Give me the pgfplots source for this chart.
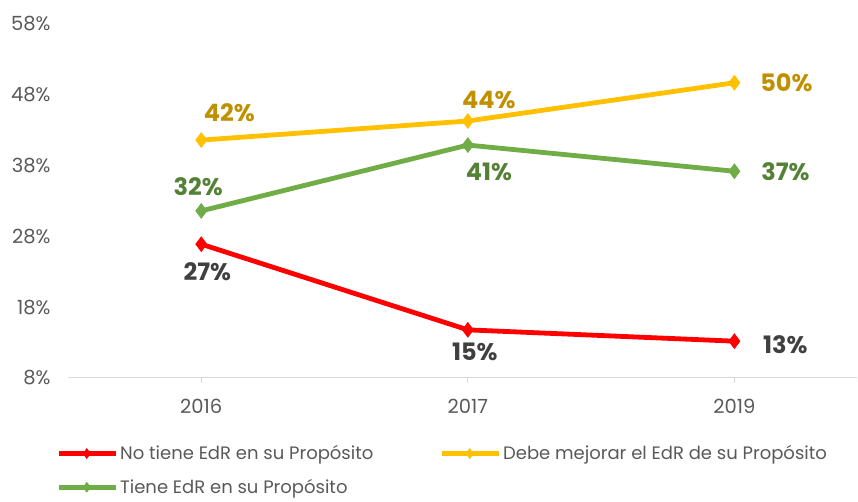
\documentclass[border=0pt]{standalone}
\usepackage{fontspec}
\setmainfont{Poppins}
\usepackage{pgfplots}
\pgfplotsset{compat=1.18}

\definecolor{redline}{HTML}{FF0000}
\definecolor{yelline}{HTML}{FFC000}
\definecolor{grnline}{HTML}{70AD47}
\definecolor{yellab}{HTML}{BF9000}
\definecolor{grnlab}{HTML}{538135}
\definecolor{redlab}{HTML}{404040}
\definecolor{ticktxt}{HTML}{595959}
\definecolor{axgray}{HTML}{D9D9D9}

% x = category index, y = value, lab = printed label, dx/dy = label shift (pt)
\pgfplotstableread{
x y lab dx dy
0 26.9 27 6 -27
1 14.8 15 7 -22
2 13.2 13 51 -3
}\redtab
\pgfplotstableread{
x y lab dx dy
0 41.6 42 28 27
1 44.3 44 21 21
2 49.7 50 52 0
}\yeltab
\pgfplotstableread{
x y lab dx dy
0 31.6 32 -3 24
1 40.9 41 21 -27
2 37.2 37 51 0
}\grntab

\begin{document}
\begin{tikzpicture}
\path[use as bounding box] (0,0) rectangle (858pt,502pt);
\begin{axis}[
  at={(68pt,124pt)}, anchor=south west,
  scale only axis,
  width=789pt, height=354pt,
  xmin=-0.5, xmax=2.46,
  ymin=8, ymax=58,
  xtick={0,1,2},
  xticklabels={2016,2017,2019},
  ytick={8,18,28,38,48,58},
  yticklabel={\pgfmathprintnumber{\tick}\%},
  /pgf/number format/assume math mode=true,
  axis lines*=left,
  x axis line style={draw=axgray, line width=1pt},
  y axis line style={draw=none},
  ytick style={draw=none},
  xtick style={draw=axgray, line width=1pt},
  tick align=outside,
  major tick length=5pt,
  tick label style={font=\fontsize{19.5}{21}\selectfont, text=ticktxt},
  yticklabel style={xshift=-9pt},
  xticklabel style={yshift=-13pt},
  clip=false,
  every axis plot/.append style={line width=4.8pt},
  mark size=7.5pt,
  point meta=explicit,
  nodes near coords={\pgfmathprintnumber[fixed,precision=0]{\pgfplotspointmeta}\%},
  visualization depends on={\thisrow{dx} \as \dx},
  visualization depends on={\thisrow{dy} \as \dy},
  every node near coord/.append style={anchor=center, xshift=\dx pt, yshift=\dy pt,
    font=\fontsize{24}{26}\selectfont\bfseries},
  legend columns=2,
  legend cell align=left,
  legend style={at={(axis description cs:-0.015,-0.185)}, anchor=north west,
    draw=none, fill=none, font=\fontsize{18}{20}\selectfont, text=ticktxt,
    row sep=14pt, inner sep=0pt,
    /tikz/every even column/.append style={column sep=64pt}},
  legend image code/.code={
    \draw[mark repeat=2, mark phase=2, mark size=5pt]
      plot coordinates {(0pt,0pt) (28pt,0pt) (57pt,0pt)};},
]
\addplot[redline, mark=diamond*, mark options={solid, line width=0.5pt},
  every node near coord/.append style={text=redlab}]
  table[x=x, y=y, meta=lab] {\redtab};
\addlegendentry{No tiene EdR en su Propósito}
\addplot[yelline, mark=diamond*, mark options={solid, line width=0.5pt},
  every node near coord/.append style={text=yellab}]
  table[x=x, y=y, meta=lab] {\yeltab};
\addlegendentry{Debe mejorar el EdR de su Propósito}
\addplot[grnline, mark=diamond*, mark options={solid, line width=0.5pt},
  every node near coord/.append style={text=grnlab}]
  table[x=x, y=y, meta=lab] {\grntab};
\addlegendentry{Tiene EdR en su Propósito}
\end{axis}
\end{tikzpicture}
\end{document}
